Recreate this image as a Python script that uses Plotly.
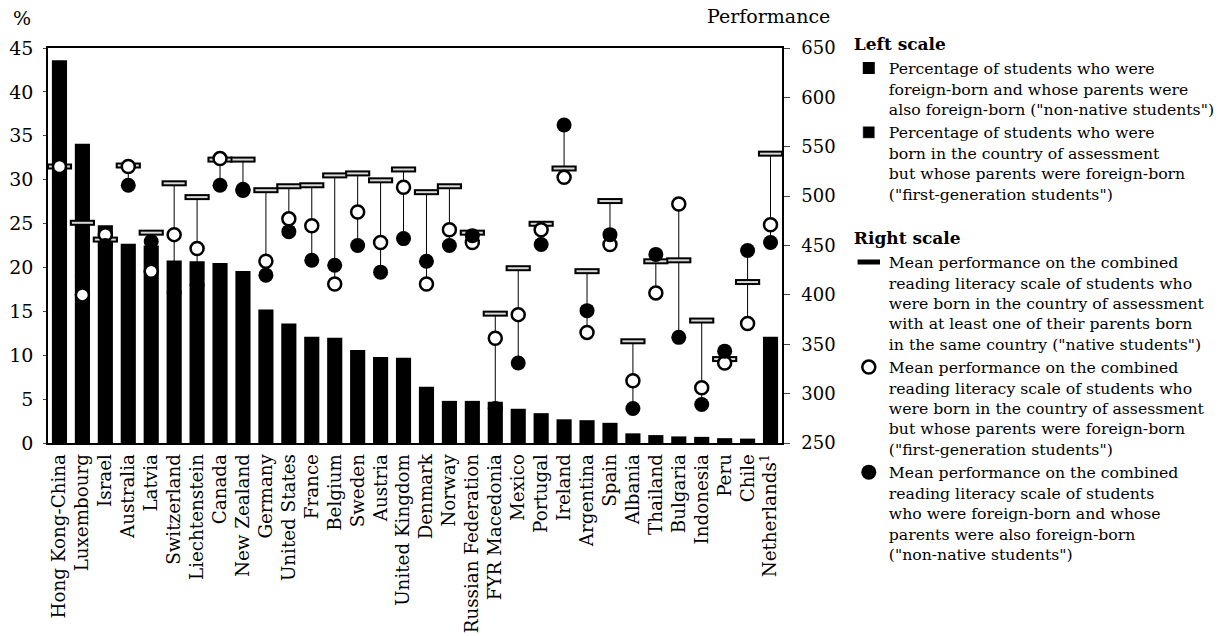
import plotly.graph_objects as go

countries = [
    "Hong Kong-China", "Luxembourg", "Israel", "Australia", "Latvia", "Switzerland",
    "Liechtenstein", "Canada", "New Zealand", "Germany", "United States", "France",
    "Belgium", "Sweden", "Austria", "United Kingdom", "Denmark", "Norway",
    "Russian Federation", "FYR Macedonia", "Mexico", "Portugal", "Ireland",
    "Argentina", "Spain", "Albania", "Thailand", "Bulgaria", "Indonesia", "Peru",
    "Chile", "Netherlands<sup>1</sup>",
]

# share of students with an immigrant background (%), left scale
pct_immigrant = [
    43.6, 34.1, 24.8, 22.7, 22.5, 20.8, 20.7, 20.5, 19.6, 15.2, 13.6, 12.1,
    12.0, 10.6, 9.8, 9.7, 6.4, 4.8, 4.8, 4.7, 3.9, 3.4, 2.7, 2.6, 2.3,
    1.1, 0.9, 0.75, 0.7, 0.55, 0.5, 12.1,
]

# mean reading scores, right scale
native = [
    530, 473, 456, 531, 463, 513, 499, 537, 537, 506, 510, 511,
    521, 523, 516, 527, 504, 510, 463, 381, 427, 472, 528, 424, 495,
    353, 434, 435, 374, 335, 413, 543,
]
first_gen = [
    530, 400, 461, 530, 424, 461, 447, 538, 506, 434, 477, 470,
    411, 484, 453, 509, 411, 466, 453, 356, 380, 466, 519, 362, 451,
    313, 402, 492, 306, 331, 371, 471,
]
non_native = [
    510, 420, 450, 511, 454, 402, 410, 511, 507, 420, 464, 435,
    430, 450, 423, 457, 434, 450, 460, 285, 331, 451, 572, 384, 461,
    285, 441, 357, 289, 343, 445, 453,
]

serif = "DejaVu Serif"

# vertical connectors spanning each country's three scores
link_x, link_y = [], []
for c, a, b, d in zip(countries, native, first_gen, non_native):
    link_x += [c, c, None]
    link_y += [min(a, b, d), max(a, b, d), None]

fig = go.Figure()

fig.add_trace(go.Bar(
    x=countries, y=pct_immigrant,
    marker=dict(color="black", line=dict(width=0)),
    name="Percentage of students who were<br>foreign-born and whose parents were<br>also foreign-born (\"non-native students\")",
    legendgroup="left", legendgrouptitle_text="<b>Left scale</b>",
))
fig.add_trace(go.Bar(
    x=[None], y=[None],
    marker=dict(color="black"),
    name="Percentage of students who were<br>born in the country of assessment<br>but whose parents were foreign-born<br>(\"first-generation students\")",
    legendgroup="left",
))

fig.add_trace(go.Scatter(
    x=link_x, y=link_y, yaxis="y2", mode="lines",
    line=dict(color="black", width=1), showlegend=False, hoverinfo="skip",
))
fig.add_trace(go.Scatter(
    x=countries, y=native, yaxis="y2", mode="markers",
    marker=dict(symbol="line-ew", size=18, line=dict(color="black", width=6)),
    name="Mean performance on the combined<br>reading literacy scale of students who<br>were born in the country of assessment<br>with at least one of their parents born<br>in the same country (\"native students\")",
    legendgroup="right", legendgrouptitle_text="<b>Right scale</b>",
))
fig.add_trace(go.Scatter(
    x=countries, y=native, yaxis="y2", mode="markers",
    marker=dict(symbol="line-ew", size=15, line=dict(color="#d8d8d8", width=2)),
    showlegend=False, legendgroup="right",
))
fig.add_trace(go.Scatter(
    x=countries, y=first_gen, yaxis="y2", mode="markers",
    marker=dict(symbol="circle", size=13, color="white", line=dict(color="black", width=2.5)),
    name="Mean performance on the combined<br>reading literacy scale of students who<br>were born in the country of assessment<br>but whose parents were foreign-born<br>(\"first-generation students\")",
    legendgroup="right",
))
fig.add_trace(go.Scatter(
    x=countries, y=non_native, yaxis="y2", mode="markers",
    marker=dict(symbol="circle", size=15, color="black"),
    name="Mean performance on the combined<br>reading literacy scale of students<br>who were foreign-born and whose<br>parents were also foreign-born<br>(\"non-native students\")",
    legendgroup="right",
))

fig.update_layout(
    width=1224, height=636,
    margin=dict(l=40, r=434, t=40, b=201),
    paper_bgcolor="white", plot_bgcolor="white",
    font=dict(family=serif, color="black", size=16),
    bargap=0.34,
    xaxis=dict(
        type="category", range=[-0.5, len(countries) - 0.5],
        tickmode="linear", tick0=0, dtick=1,
        tickangle=-90, showline=True, mirror=True, automargin=False,
        linecolor="black", linewidth=1.5, ticks="", showgrid=False,
        tickfont=dict(size=18.3), ticklabelstandoff=2,
    ),
    yaxis=dict(
        range=[0, 45], dtick=5, showline=True, linecolor="black", linewidth=1.5,
        ticks="outside", ticklen=3, showgrid=False, zeroline=False, automargin=False,
        tickfont=dict(size=19), ticklabelstandoff=6,
    ),
    yaxis2=dict(
        range=[250, 650], dtick=50, overlaying="y", side="right",
        showline=True, linecolor="black", linewidth=1.5, automargin=False,
        ticks="outside", ticklen=6, showgrid=False, zeroline=False,
        tickfont=dict(size=18), ticklabelstandoff=8,
    ),
    legend=dict(
        x=1.091, y=1.055, xanchor="left", yanchor="top",
        traceorder="grouped", valign="top", tracegroupgap=20,
        font=dict(size=15.7), grouptitlefont=dict(size=17),
        itemwidth=30, maxheight=620,
    ),
    annotations=[
        dict(text="%", xref="paper", yref="paper", x=-0.05, y=1.076,
             xanchor="left", yanchor="middle", showarrow=False, font=dict(size=19)),
        dict(text="Performance", xref="paper", yref="paper", x=1.068, y=1.08,
             xanchor="right", yanchor="middle", showarrow=False, font=dict(size=19)),
    ],
)

fig.write_html("out.html")
